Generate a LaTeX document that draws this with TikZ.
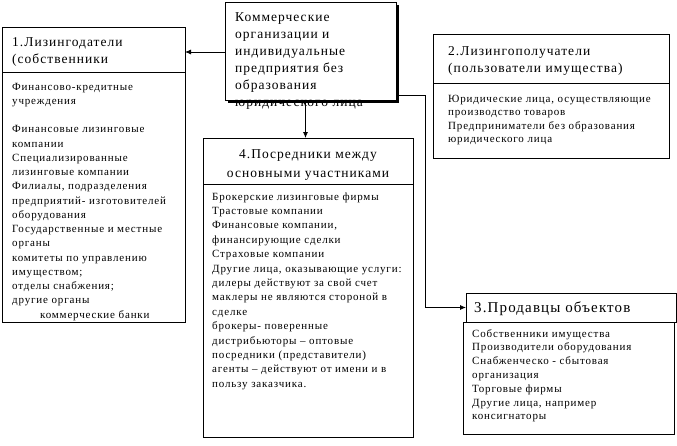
\documentclass[tikz,border=0pt]{standalone}
\usepackage{fontspec}
\setmainfont{Liberation Serif}[LetterSpace=7.5]
\usetikzlibrary{arrows.meta,shadows}
\newcommand{\boxlines}[2]{\parbox[t]{#1}{\raggedright #2}}

\begin{document}
\begin{tikzpicture}[x=1pt,y=-1pt]
  \tikzset{frame/.style = {
  draw,
  line width = 0.8pt,
  fill = white,
  inner sep = 0pt,
  outer sep = 0pt,
  anchor = north west},
  head/.style = {inner sep=0pt, anchor=base west, font=\fontsize{13.5}{17}\selectfont},
  body/.style = {inner sep=0pt, anchor=base west, font=\fontsize{11}{14.25}\selectfont},
  arr/.style = {line width=0.8pt, -{Latex[length=6pt,width=5pt]}}}
  \useasboundingbox (0,0) rectangle (677,445);
  % frames
  \node[frame, minimum width=183pt, minimum height=45pt] (ldh) at (2,27) {};
  \node[frame, minimum width=183pt, minimum height=250pt] (ldb) at (2,72) {};
  \node[frame, minimum width=236pt, minimum height=49pt] (plh) at (433,34) {};
  \node[frame, minimum width=236pt, minimum height=75pt] (plb) at (433,83) {};
  \node[frame, minimum width=210pt, minimum height=46pt] (prh) at (203,138) {};
  \node[frame, minimum width=210pt, minimum height=253pt] (prb) at (203,184) {};
  \node[frame, minimum width=210pt, minimum height=29pt] (pdh) at (466,293) {};
  \node[frame, minimum width=211pt, minimum height=112pt] (pdb) at (463,322) {};
  \node[frame, minimum width=171pt, minimum height=98pt,
    drop shadow={shadow xshift=3pt, shadow yshift=-3pt, fill=black, opacity=1}] (cm) at (225,2) {};
  % texts
  \node[head] (cmt) at (235,21) {\boxlines{160pt}{Коммерческие\\организации и\\индивидуальные\\предприятия без\\образования\\юридического лица}};
  \node[head] (ldht) at (12,46) {\boxlines{170pt}{1.Лизингодатели\\(собственники}};
  \node[body] (ldbt) at (12,90) {\boxlines{170pt}{Финансово-кредитные\\учреждения\\~\\Финансовые лизинговые\\компании\\Специализированные\\лизинговые компании\\Филиалы, подразделения\\предприятий- изготовителей\\оборудования\\Государственные и местные\\органы\\комитеты по управлению\\имуществом;\\отделы снабжения;\\другие органы\\\hspace*{28pt}коммерческие банки}};
  \node[head] (plht) at (448,55) {\boxlines{215pt}{2.Лизингополучатели\\(пользователи имущества)}};
  \node[body, font=\fontsize{11}{13.5}\selectfont] (plbt) at (448,102) {\boxlines{215pt}{Юридические лица, осуществляющие\\производство товаров\\Предприниматели без образования\\юридического лица}};
  \node[head, anchor=base, font=\fontsize{13.5}{19}\selectfont] (prht) at (308,158) {\parbox[t]{200pt}{\centering 4.Посредники между\\основными участниками}};
  \node[body, font=\fontsize{11}{14.4}\selectfont] (prbt) at (212,200) {\boxlines{198pt}{Брокерские лизинговые фирмы\\Трастовые компании\\Финансовые компании,\\финансирующие сделки\\Страховые компании\\Другие лица, оказывающие услуги:\\дилеры действуют за свой счет\\маклеры не являются стороной в\\сделке\\брокеры- поверенные\\дистрибьюторы – оптовые\\посредники (представители)\\агенты – действуют от имени и в\\пользу заказчика.}};
  \node[head, font=\fontsize{15}{17}\selectfont] (pdht) at (474,312) {3.Продавцы объектов};
  \node[body, font=\fontsize{11}{13.8}\selectfont] (pdbt) at (472,337) {\boxlines{198pt}{Собственники имущества\\Производители оборудования\\Снабженческо - сбытовая\\организация\\Торговые фирмы\\Другие лица, например\\консигнаторы}};
  % connectors
  \draw[arr] ([yshift=-50pt]cm.north west) coordinate (c1) -- (c1 -| ldh.east);
  \draw[arr] ([xshift=-5pt]cm.south) coordinate (c2) -- (c2 |- prh.north);
  \draw[arr] ([yshift=5pt]cm.south east) -- ++(29,0) |- (pdh.west);
\end{tikzpicture}
\end{document}
